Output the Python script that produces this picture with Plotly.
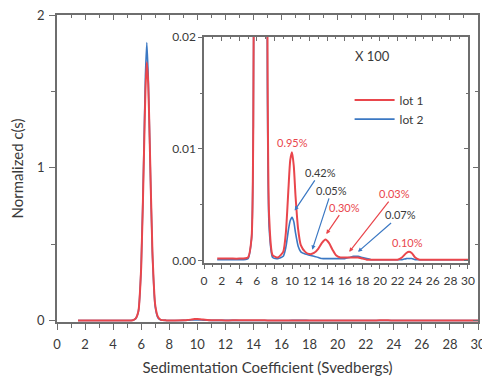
import plotly.graph_objects as go

# Sedimentation coefficient grid (Svedbergs)
s_values = [1.5, 3.0, 4.0, 5.0, 5.4, 5.6, 5.8, 6.0, 6.2, 6.3, 6.4, 6.5, 6.6, 6.8, 7.0, 7.2, 7.4,
            7.8, 8.4, 9.0, 9.3, 9.6, 9.8, 10.0, 10.2, 10.4, 10.7, 11.0, 11.5, 12.0, 12.5,
            13.0, 13.4, 13.8, 14.2, 14.6, 15.0, 15.5, 16.0, 16.5, 17.0, 17.5, 18.0, 18.5,
            19.0, 20.0, 21.0, 22.0, 22.5, 23.0, 23.3, 23.6, 24.0, 24.5, 25.0, 26.0, 28.0, 30.0]

lot1 = [0.0002, 0.0002, 0.0002, 0.0003, 0.002, 0.012, 0.06, 0.35, 1.1, 1.5, 1.69, 1.55, 1.2,
        0.45, 0.1, 0.022, 0.004, 0.0005, 0.0003, 0.0008, 0.0025, 0.0065, 0.0090, 0.0097,
        0.0085, 0.0058, 0.0028, 0.0014, 0.0008, 0.0006, 0.0007, 0.0011, 0.0016, 0.0019,
        0.0016, 0.0010, 0.0005, 0.0003, 0.0003, 0.0003, 0.0003, 0.0003, 0.0002, 0.0001,
        0.0001, 0.0001, 0.0001, 0.0001, 0.0003, 0.0007, 0.0008, 0.0007, 0.0003, 0.0001,
        0.0001, 0.0001, 0.0001, 0.0001]

lot2 = [0.0001, 0.0001, 0.0001, 0.0002, 0.002, 0.012, 0.06, 0.36, 1.15, 1.6, 1.82, 1.6, 1.2,
        0.43, 0.09, 0.016, 0.003, 0.0003, 0.0002, 0.0004, 0.0012, 0.0028, 0.0036, 0.0039,
        0.0035, 0.0025, 0.0013, 0.0008, 0.0006, 0.0005, 0.0004, 0.0003, 0.0002, 0.0002,
        0.0002, 0.0002, 0.0002, 0.0002, 0.0002, 0.0003, 0.0004, 0.0004, 0.0003, 0.0002,
        0.0001, 0.0001, 0.0001, 0.0001, 0.0001, 0.0002, 0.0002, 0.0002, 0.0001, 0.0001,
        0.0001, 0.0001, 0.0001, 0.0001]

x_ticks = list(range(0, 31, 2))
main_y_ticks = [0, 1, 2]
inset_y_ticks = [0.00, 0.01, 0.02]

# annotation labels: (text, color, text_x, text_y, head_x, head_y) in inset data units
labels = [
    ("0.95%", "red", 10.1, 0.0106, None, None),
    ("0.42%", "dark", 13.2, 0.0079, 10.3, 0.0045),
    ("0.05%", "dark", 14.5, 0.0063, 12.3, 0.0010),
    ("0.30%", "red", 16.0, 0.0048, 13.9, 0.0024),
    ("0.03%", "red", 21.7, 0.0060, 16.5, 0.0008),
    ("0.07%", "dark", 22.3, 0.0041, 17.5, 0.0008),
    ("0.10%", "red", 23.1, 0.0016, None, None),
]
arrow_colors = {"0.42%": "blue", "0.05%": "blue", "0.30%": "red", "0.03%": "red", "0.07%": "blue"}

RED = "#e9464c"
BLUE = "#3b78c3"
DARK = "#3a3a3a"
AX = "#6e6e6e"
FONT = "Lato"

fig = go.Figure()
LINE_SHAPE = dict(shape="spline", smoothing=0.6)

# main axes traces (blue under red)
fig.add_trace(go.Scatter(x=s_values, y=lot2, mode="lines", line=dict(color=BLUE, width=1.6, **LINE_SHAPE),
                         showlegend=False, xaxis="x", yaxis="y"))
fig.add_trace(go.Scatter(x=s_values, y=lot1, mode="lines", line=dict(color=RED, width=2, **LINE_SHAPE),
                         showlegend=False, xaxis="x", yaxis="y"))
# inset traces (blue under red)
fig.add_trace(go.Scatter(x=s_values, y=lot2, mode="lines", name="lot 2", legendrank=2,
                         line=dict(color=BLUE, width=1.6, **LINE_SHAPE), xaxis="x2", yaxis="y2"))
fig.add_trace(go.Scatter(x=s_values, y=lot1, mode="lines", name="lot 1", legendrank=1,
                         line=dict(color=RED, width=2, **LINE_SHAPE), xaxis="x2", yaxis="y2"))

tickfont = dict(family=FONT, size=13, color=DARK)
inset_tickfont = dict(family=FONT, size=12, color=DARK)

common = dict(tickcolor=AX, linecolor=AX, linewidth=1.5, showline=True, showgrid=False,
              zeroline=False, automargin=False, ticklabeloverflow="allow")

fig.update_layout(
    width=482, height=370,
    margin=dict(l=49, r=12, t=7, b=56),
    paper_bgcolor="white", plot_bgcolor="white",
    font=dict(family=FONT, color=DARK),
    xaxis=dict(domain=[0, 1], range=[0, 30], tickvals=x_ticks, ticks="outside", ticklen=6,
               tickfont=tickfont, anchor="y", ticklabelstandoff=4,
               minor=dict(dtick=1, tick0=0, ticks="outside", ticklen=4, tickcolor=AX),
               title=dict(text="Sedimentation Coefficient (Svedbergs)", font=dict(family=FONT, size=15, color=DARK),
                          standoff=11), **common),
    yaxis=dict(domain=[0, 1], range=[-0.01, 2], tickvals=main_y_ticks, ticks="outside", ticklen=6,
               tickfont=tickfont, anchor="x", ticklabelstandoff=2,
               minor=dict(dtick=0.5, tick0=0, ticks="outside", ticklen=4, tickcolor=AX),
               title=dict(text="Normalized c(s)", font=dict(family=FONT, size=15, color=DARK), standoff=16),
               **common),
    xaxis3=dict(overlaying="x", side="top", range=[0, 30], tickvals=x_ticks, ticks="inside", ticklen=5,
                showticklabels=False, anchor="y",
                minor=dict(dtick=1, tick0=0, ticks="inside", ticklen=3, tickcolor=AX), **common),
    yaxis3=dict(overlaying="y", side="right", range=[-0.01, 2], tickvals=main_y_ticks, ticks="inside", ticklen=5,
                showticklabels=False, anchor="x",
                minor=dict(dtick=0.5, tick0=0, ticks="inside", ticklen=3, tickcolor=AX), **common),
    xaxis2=dict(domain=[0.3492, 0.9762], range=[0, 30], tickvals=x_ticks, ticks="outside", ticklen=4,
                tickfont=inset_tickfont, anchor="y2", ticklabelstandoff=2,
                minor=dict(dtick=1, tick0=0, ticks="outside", ticklen=2, tickcolor=AX), **common),
    yaxis2=dict(domain=[0.192, 0.928], range=[-0.0002, 0.02], tickvals=inset_y_ticks, tickformat=".2f",
                ticks="outside", ticklen=4, tickfont=inset_tickfont, anchor="x2",
                minor=dict(dtick=0.005, tick0=0, ticks="outside", ticklen=2, tickcolor=AX), **common),
    xaxis4=dict(overlaying="x2", side="top", range=[0, 30], tickvals=x_ticks, ticks="inside", ticklen=4,
                showticklabels=False, anchor="y2",
                minor=dict(dtick=1, tick0=0, ticks="inside", ticklen=2, tickcolor=AX), **common),
    yaxis4=dict(overlaying="y2", side="right", range=[-0.0002, 0.02], tickvals=inset_y_ticks, ticks="inside",
                ticklen=4, showticklabels=False, anchor="x2",
                minor=dict(dtick=0.005, tick0=0, ticks="inside", ticklen=2, tickcolor=AX), **common),
    legend=dict(x=0.695, y=0.77, xanchor="left", yanchor="top", bgcolor="rgba(0,0,0,0)",
                font=dict(family=FONT, size=12, color=DARK), itemwidth=40, tracegroupgap=2),
)

# inset white background
fig.add_shape(type="rect", xref="x2 domain", yref="y2 domain", x0=0, x1=1, y0=0, y1=1,
              fillcolor="white", line=dict(width=0), layer="below")

# empty traces so overlay axes render
fig.add_trace(go.Scatter(x=[None], y=[None], xaxis="x3", yaxis="y3", showlegend=False, hoverinfo="skip"))
fig.add_trace(go.Scatter(x=[None], y=[None], xaxis="x4", yaxis="y4", showlegend=False, hoverinfo="skip"))

fig.add_annotation(text="X 100", x=19.1, y=0.0183, xref="x2", yref="y2", showarrow=False,
                   font=dict(family=FONT, size=13, color=DARK))

for text, c, tx, ty, hx, hy in labels:
    col = RED if c == "red" else DARK
    if hx is None:
        fig.add_annotation(text=text, x=tx, y=ty, xref="x2", yref="y2", showarrow=False,
                           font=dict(family=FONT, size=11, color=col))
    else:
        acol = RED if arrow_colors[text] == "red" else BLUE
        fig.add_annotation(text=text, x=hx, y=hy, xref="x2", yref="y2", ax=tx, ay=ty,
                           axref="x2", ayref="y2", showarrow=True, arrowhead=2, arrowsize=0.7,
                           arrowwidth=1.2, arrowcolor=acol, standoff=0,
                           font=dict(family=FONT, size=11, color=col))

fig.write_html("out.html")
